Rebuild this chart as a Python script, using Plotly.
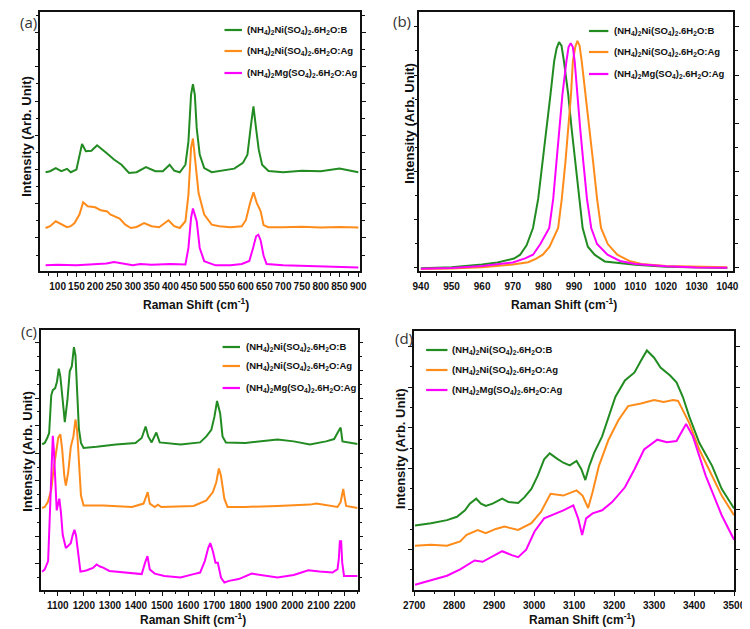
import plotly.graph_objects as go

W, H = 750, 629

series_names = [
    "(NH<sub>4</sub>)<sub>2</sub>Ni(SO<sub>4</sub>)<sub>2</sub>.6H<sub>2</sub>O:B",
    "(NH<sub>4</sub>)<sub>2</sub>Ni(SO<sub>4</sub>)<sub>2</sub>.6H<sub>2</sub>O:Ag",
    "(NH<sub>4</sub>)<sub>2</sub>Mg(SO<sub>4</sub>)<sub>2</sub>.6H<sub>2</sub>O:Ag",
]
series_colors = ["#228B22", "#FF8C1A", "#FF00FF"]
panel_labels = ["(a)", "(b)", "(c)", "(d)"]
x_title = "Raman Shift (cm<sup>-1</sup>)"
y_title = "Intensity (Arb. Unit)"

# ---------------- panel (a) ----------------
a_b_x = [68, 80, 95, 110, 125, 135, 150, 158, 165, 175, 190, 205, 220, 230, 250, 270, 290, 310, 335, 360,
         380, 398, 410, 425, 440, 448, 455, 460, 465, 470, 478, 490, 510, 540, 570, 593, 605, 614, 621, 628,
         635, 644, 661, 700, 750, 800, 850, 900]
a_b_y = [38.2, 38.6, 39.8, 38.6, 39.5, 38.2, 39.2, 44.0, 49.1, 46.3, 46.5, 48.6, 46.9, 45.6, 43.1, 41.1, 37.9, 38.2, 40.2, 38.6,
         38.6, 41.1, 38.8, 38.2, 41.1, 50.0, 68.1, 72.2, 68.1, 55.3, 45.0, 39.8, 38.2, 38.8, 39.6, 41.8, 45.0, 56.0, 63.6, 55.0,
         47.0, 41.1, 38.7, 38.2, 38.8, 38.6, 39.6, 38.2]
a_ag_x = [68, 80, 95, 110, 125, 135, 145, 158, 168, 180, 200, 215, 232, 240, 255, 265, 280, 295, 310, 330,
          350, 370, 395, 410, 425, 440, 448, 455, 460, 468, 475, 490, 510, 530, 560, 590, 601, 612, 621, 630,
          640, 648, 660, 700, 750, 800, 850, 900]
a_ag_y = [16.7, 17.4, 19.3, 18.3, 17.0, 17.4, 18.6, 21.9, 26.6, 25.1, 24.7, 23.5, 23.1, 21.9, 20.8, 20.3, 18.0, 16.7, 17.1, 18.6,
          17.4, 17.0, 19.7, 17.4, 16.7, 19.3, 29.6, 47.6, 51.2, 41.1, 30.2, 21.9, 18.0, 17.4, 17.0, 17.4, 19.8, 26.3, 30.5, 26.3,
          23.2, 17.8, 17.0, 17.0, 17.2, 16.9, 17.1, 16.9]
a_mg_x = [68, 100, 150, 200, 230, 250, 270, 300, 320, 350, 400, 440, 448, 455, 460, 470, 478, 490, 520, 560,
          590, 610, 620, 628, 634, 640, 648, 656, 700, 800, 900]
a_mg_y = [2.3, 2.5, 2.3, 2.6, 3.0, 3.6, 3.0, 2.3, 2.8, 2.5, 2.8, 2.6, 9.0, 20.6, 24.2, 19.3, 9.0, 3.9, 2.3, 2.3,
          2.8, 4.0, 9.0, 13.5, 14.1, 12.0, 6.0, 2.8, 2.3, 2.0, 1.5]

# ---------------- panel (b) ----------------
b_b_x = [940, 950, 960, 965, 970.4, 972.4, 974.5, 976.6, 978.3, 979.8, 981.0, 982.3, 983.5, 984.3, 985.1, 985.9,
         986.7, 988.1, 989.2, 990.4, 991.6, 992.8, 994.5, 996.7, 1000, 1005.2, 1010, 1020, 1030, 1040]
b_b_y = [1.2, 1.6, 2.6, 3.4, 4.9, 6.4, 10.0, 16.7, 28.0, 42.4, 56.0, 68.1, 81.0, 86.0, 88.4, 87.0,
         81.0, 68.1, 55.0, 42.4, 28.0, 16.7, 9.5, 6.4, 3.8, 3.2, 2.5, 1.8, 1.5, 1.3]
b_ag_x = [940, 950, 960, 970, 975, 977.5, 979.8, 982, 984.8, 986, 987.2, 988.1, 989.0, 989.6, 990.4, 991.1,
          991.8, 992.5, 993.8, 995, 996.2, 997.5, 998.8, 1001, 1004.1, 1008, 1012, 1020, 1030, 1040]
b_ag_y = [0.9, 1.1, 1.6, 2.6, 3.5, 4.8, 6.4, 9.5, 16.7, 28.0, 42.4, 56.0, 68.1, 81.0, 86.5, 88.9,
          87.0, 81.0, 68.1, 55.0, 42.4, 28.0, 16.7, 10.5, 6.4, 4.0, 2.8, 2.0, 1.7, 1.6]
b_mg_x = [940, 950, 960, 970, 974, 976.6, 979, 981.9, 983.2, 984.3, 985.3, 986.2, 987.5, 988.2, 988.9, 989.6,
          990.2, 991.0, 992.0, 993.0, 994.2, 995.6, 997.5, 1000.9, 1005, 1010, 1020, 1030, 1040]
b_mg_y = [1.0, 1.3, 2.0, 3.4, 5.0, 6.4, 10.5, 16.7, 28.0, 42.4, 56.0, 68.1, 81.0, 86.5, 88.0, 86.5,
          81.0, 68.1, 55.0, 42.4, 28.0, 16.7, 10.5, 6.4, 4.0, 2.8, 1.9, 1.5, 1.4]

# ---------------- panel (c) ----------------
c_b_x = [1040, 1050, 1060, 1067, 1075, 1081, 1090, 1097, 1104, 1110, 1119, 1127, 1137, 1146, 1154, 1162, 1168, 1174,
         1181, 1189, 1199, 1249, 1323, 1398, 1422, 1437, 1447, 1460, 1478, 1491, 1571, 1646, 1670, 1689, 1701, 1711,
         1723, 1732, 1745, 1819, 1943, 2005, 2067, 2129, 2160, 2176, 2185, 2192, 2250]
c_b_y = [56.0, 56.5, 58.5, 60.3, 74.8, 76.8, 77.5, 80.0, 85.0, 82.0, 72.9, 64.5, 72.9, 84.0, 86.0, 93.3, 90.0, 76.7,
         62.0, 56.5, 54.6, 55.0, 55.9, 56.5, 58.4, 62.8, 59.0, 56.7, 60.5, 56.7, 55.9, 56.7, 59.0, 61.5, 66.6, 72.6,
         67.8, 59.0, 56.7, 56.5, 57.8, 57.1, 55.9, 57.1, 58.0, 60.9, 62.4, 57.1, 56.1]
c_ag_x = [1040, 1050, 1062, 1075, 1084, 1094, 1102, 1110, 1117, 1125, 1131, 1140, 1150, 1160, 1168, 1174, 1181, 1189,
          1199, 1274, 1385, 1429, 1445, 1453, 1472, 1484, 1497, 1621, 1670, 1695, 1708, 1718, 1726, 1739, 1751, 1819,
          1943, 2067, 2092, 2173, 2185, 2191, 2195, 2200, 2206, 2250]
c_ag_y = [31.5, 31.9, 33.8, 38.5, 46.4, 54.0, 58.5, 59.8, 54.0, 43.9, 40.1, 45.1, 55.0, 59.0, 65.5, 61.5, 47.7, 36.3,
          32.5, 32.5, 31.9, 33.2, 37.6, 33.2, 31.9, 32.8, 31.9, 32.3, 34.4, 37.6, 41.4, 46.7, 43.9, 35.1, 31.9, 31.9,
          32.3, 32.8, 33.2, 31.9, 33.8, 37.6, 38.8, 35.7, 32.3, 31.5]
c_mg_x = [1040, 1050, 1063, 1071, 1077, 1081, 1085, 1089, 1096, 1101, 1106, 1112, 1119, 1131, 1142, 1150, 1157, 1164,
          1170, 1176, 1187, 1200, 1212, 1235, 1249, 1262, 1274, 1298, 1348, 1422, 1435, 1444, 1453, 1472, 1509, 1571,
          1621, 1646, 1664, 1677, 1685, 1695, 1705, 1714, 1726, 1739, 1757, 1794, 1844, 1894, 1943, 2005, 2061, 2104,
          2154, 2173, 2178, 2182, 2187, 2191, 2198, 2250]
c_mg_y = [7.0, 7.9, 11.1, 33.8, 55.0, 59.2, 54.0, 43.9, 30.6, 33.0, 35.1, 30.0, 21.2, 16.1, 17.0, 18.0, 21.0, 23.1,
          21.0, 16.0, 7.1, 7.3, 7.6, 8.5, 9.8, 9.0, 8.6, 7.3, 6.7, 6.1, 10.5, 13.0, 7.9, 6.3, 5.4, 4.8,
          6.1, 6.7, 11.1, 16.1, 18.0, 14.9, 10.5, 10.5, 4.8, 2.9, 3.5, 4.2, 6.3, 5.4, 4.8, 5.8, 7.6, 7.1,
          6.7, 8.0, 12.0, 18.7, 18.7, 10.5, 5.4, 5.4]

# ---------------- panel (d) ----------------
d_b_x = [2702, 2742, 2782, 2807, 2827, 2839, 2855, 2867, 2879, 2896, 2920, 2936, 2960, 2976, 2993, 3009, 3025, 3039,
         3057, 3073, 3089, 3106, 3118, 3128, 3138, 3150, 3170, 3186, 3203, 3227, 3251, 3267, 3282, 3300, 3316, 3340,
         3356, 3372, 3388, 3413, 3445, 3469, 3500]
d_b_y = [24.9, 25.8, 27.0, 28.3, 30.8, 33.4, 35.3, 33.4, 32.5, 33.4, 35.3, 34.0, 33.6, 35.9, 39.1, 44.2, 50.5, 52.8,
         50.8, 49.2, 48.2, 49.9, 46.7, 42.5, 48.0, 53.0, 59.4, 67.0, 74.6, 81.0, 84.1, 88.6, 92.6, 89.8, 86.0, 82.9,
         80.3, 74.6, 67.0, 56.9, 48.0, 39.1, 31.5]
d_ag_x = [2702, 2742, 2782, 2815, 2831, 2859, 2879, 2904, 2926, 2960, 2993, 3017, 3041, 3073, 3106, 3121, 3135, 3146,
          3162, 3186, 3211, 3235, 3267, 3300, 3324, 3348, 3360, 3372, 3388, 3413, 3445, 3469, 3500]
d_ag_y = [17.1, 17.5, 17.1, 18.8, 21.3, 23.2, 22.0, 23.6, 24.5, 23.2, 25.8, 30.2, 37.2, 36.5, 38.5, 36.5, 31.7, 37.8,
          48.0, 58.1, 65.7, 71.1, 72.1, 73.4, 72.7, 73.4, 73.1, 69.5, 64.5, 54.3, 44.2, 36.5, 28.9]
d_mg_x = [2702, 2742, 2782, 2815, 2839, 2851, 2871, 2896, 2920, 2944, 2960, 2980, 3001, 3025, 3049, 3073, 3098, 3110,
          3120, 3130, 3146, 3170, 3195, 3227, 3251, 3275, 3308, 3332, 3356, 3380, 3397, 3429, 3469, 3500]
d_mg_y = [2.0, 3.8, 5.5, 8.0, 10.5, 11.4, 10.9, 13.1, 15.0, 13.5, 12.7, 15.6, 22.6, 27.7, 29.2, 30.8, 32.7, 27.7,
          21.3, 27.7, 29.6, 30.8, 34.0, 39.7, 46.7, 54.3, 58.1, 57.1, 57.6, 64.2, 59.4, 44.2, 28.9, 19.4]

panel_data = [
    [(a_b_x, a_b_y), (a_ag_x, a_ag_y), (a_mg_x, a_mg_y)],
    [(b_b_x, b_b_y), (b_ag_x, b_ag_y), (b_mg_x, b_mg_y)],
    [(c_b_x, c_b_y), (c_ag_x, c_ag_y), (c_mg_x, c_mg_y)],
    [(d_b_x, d_b_y), (d_ag_x, d_ag_y), (d_mg_x, d_mg_y)],
]

# ---------------- layout (pixel geometry) ----------------
panels = [
    dict(px=(22, 352), py=(4, 263.3), xr=[54, 905], dt=50, mdt=25, y0=12.85, ydt=13.2,
         leg=(212, 230, 233, [22, 43, 65]), lab=(10, 14), xt=(183, 296), yt=(8, 128)),
    dict(px=(413, 737), py=(4, 263.3), xr=[939.5, 1042], dt=10, mdt=5, y0=1.3, ydt=18.6,
         leg=(588, 608, 612, [23, 44, 66]), lab=(395, 13), xt=(562, 296), yt=(402, 115)),
    dict(px=(22.5, 349.3), py=(321.7, 582), xr=[1035, 2250], dt=100, mdt=50, y0=10.1, ydt=10.6,
         leg=(210, 228, 232, [339, 358, 380]), lab=(10, 323), xt=(180, 611), yt=(8, 443)),
    dict(px=(407.7, 737.7), py=(323.3, 582), xr=[2700, 3500], dt=100, mdt=50, y0=15.6, ydt=15.7,
         leg=(420, 442, 445, [342, 362, 382]), lab=(397, 330), xt=(581, 611), yt=(393, 440)),
]

tick_font = dict(family="Liberation Sans, Arial, sans-serif", size=10, color="#111", weight="bold")
bold_family = "Liberation Sans, Arial, sans-serif"

fig = go.Figure()
layout = dict(width=W, height=H, margin=dict(l=0, r=0, t=0, b=0), paper_bgcolor="white",
              plot_bgcolor="white", showlegend=False, annotations=[], shapes=[])

for i, (p, data) in enumerate(zip(panels, panel_data)):
    n = "" if i == 0 else str(i + 1)
    for (xs, ys), c in zip(data, series_colors):
        fig.add_trace(go.Scatter(x=xs, y=ys, mode="lines", line=dict(color=c, width=2),
                                 xaxis="x" + n, yaxis="y" + n, hoverinfo="skip"))
    layout["xaxis" + n] = dict(
        domain=[p["px"][0] / W, p["px"][1] / W], anchor="y" + n, range=p["xr"],
        showgrid=False, zeroline=False, showline=True, linecolor="#111", linewidth=1.6, mirror=True,
        ticks="outside", ticklen=4, tickwidth=1.3, tickcolor="#111", dtick=p["dt"], tick0=0,
        tickfont=tick_font, tickangle=0, ticklabelstandoff=1,
        minor=dict(dtick=p["mdt"], tick0=0, ticks="outside", ticklen=2.5, tickwidth=1, tickcolor="#111"))
    layout["yaxis" + n] = dict(
        domain=[1 - p["py"][1] / H, 1 - p["py"][0] / H], anchor="x" + n, range=[0, 100],
        showgrid=False, zeroline=False, showline=True, linecolor="#111", linewidth=1.6, mirror="ticks",
        ticks="outside", ticklen=4, tickwidth=1.3, tickcolor="#111", showticklabels=False,
        tick0=p["y0"], dtick=p["ydt"],
        minor=dict(dtick=p["ydt"] / 2, tick0=p["y0"], ticks="outside", ticklen=2.5, tickwidth=1,
                   tickcolor="#111"))
    # legend (drawn manually)
    lx0, lx1, tx, rows = p["leg"]
    for name, c, ry in zip(series_names, series_colors, rows):
        layout["shapes"].append(dict(type="line", xref="paper", yref="paper",
                                     x0=lx0 / W, x1=lx1 / W, y0=1 - ry / H, y1=1 - ry / H,
                                     line=dict(color=c, width=2.2)))
        layout["annotations"].append(dict(xref="paper", yref="paper", x=tx / W, y=1 - ry / H,
                                          xanchor="left", yanchor="middle", showarrow=False,
                                          text="<b>" + name + "</b>",
                                          font=dict(family=bold_family, size=9.5, color="#111")))
    # panel label
    layout["annotations"].append(dict(xref="paper", yref="paper", x=p["lab"][0] / W, y=1 - p["lab"][1] / H,
                                      xanchor="center", yanchor="middle", showarrow=False,
                                      text=panel_labels[i],
                                      font=dict(family="Open Sans, Liberation Sans, sans-serif", size=15,
                                                color="#333")))
    # axis titles
    layout["annotations"].append(dict(xref="paper", yref="paper", x=p["xt"][0] / W, y=1 - p["xt"][1] / H,
                                      xanchor="center", yanchor="middle", showarrow=False,
                                      text="<b>" + x_title + "</b>",
                                      font=dict(family=bold_family, size=12, color="#111")))
    layout["annotations"].append(dict(xref="paper", yref="paper", x=p["yt"][0] / W, y=1 - p["yt"][1] / H,
                                      xanchor="center", yanchor="middle", showarrow=False, textangle=-90,
                                      text="<b>" + y_title + "</b>",
                                      font=dict(family=bold_family, size=13, color="#111")))

fig.update_layout(**layout)
fig.write_html("out.html")
